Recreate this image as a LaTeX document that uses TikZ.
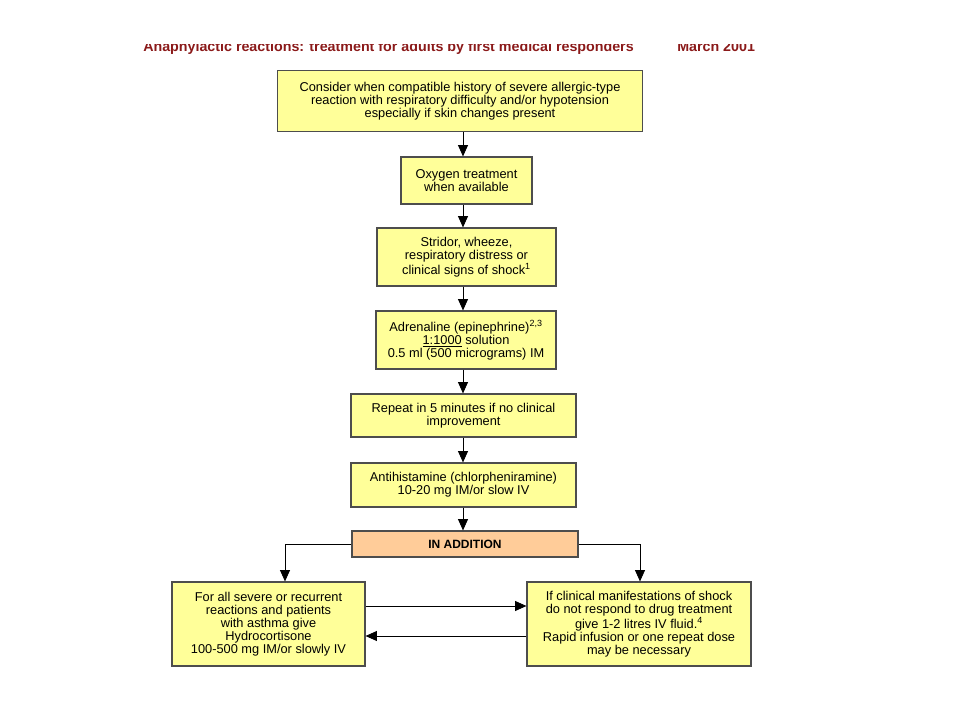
\documentclass[tikz,border=0pt]{standalone}
\usepackage{fontspec}
\setmainfont{Liberation Sans}
\usetikzlibrary{arrows.meta}
\definecolor{boxyellow}{HTML}{FFFF99}
\definecolor{boxorange}{HTML}{FFCC99}
\definecolor{boxline}{HTML}{4D4D4D}
\definecolor{titlered}{HTML}{8B1A1A}
\begin{document}
\begin{tikzpicture}[x=0.75pt, y=-0.75pt]
    % Define styles
    \tikzset{
        stage/.style 2 args={
            draw=boxline,
            fill=boxyellow,
            line width=0.9pt,
            align=center,
            inner sep=0pt,
            minimum width=#1*0.75pt,
            minimum height=#2*0.75pt,
            font=\fontsize{9.6}{9.8}\selectfont
        },
        extra/.style={
            stage={226}{26},
            fill=boxorange,
            font=\fontsize{9}{9.8}\selectfont\bfseries
        },
        flow/.style={
            line width=0.6pt,
            -{Triangle[length=8.5pt, width=7.5pt]}
        },
        heading/.style={
            titlered,
            font=\fontsize{10.7}{12}\selectfont\bfseries,
            anchor=base west,
            inner sep=0pt
        }
    }
    \useasboundingbox (0,0) rectangle (960,720);
    \clip (0,45) rectangle (960,720);

    % Title (cut off at the top)
    \node[heading] (title) at (143,52) {Anaphylactic reactions: treatment for adults by first medical responders};
    \node[heading] (date) at (677,52) {March 2001};

    % Main column
    \node[stage={365}{61}] (consider) at (460,101) {Consider when compatible history of severe allergic-type\\reaction with respiratory difficulty and/or hypotension\\especially if skin changes present};
    \node[stage={131}{47}] (oxygen) at (466.5,180.5) {Oxygen treatment\\when available};
    \node[stage={179}{58}] (stridor) at (466.5,257) {Stridor, wheeze,\\respiratory distress or\\clinical signs of shock\textsuperscript{1}};
    \node[stage={180}{58}] (adrenaline) at (466,340) {Adrenaline (epinephrine)\textsuperscript{2,3}\\\underline{1:1000} solution\\0.5 ml (500 micrograms) IM};
    \node[stage={225}{43}] (repeat) at (463.5,415.5) {Repeat in 5 minutes if no clinical\\improvement};
    \node[stage={225}{44}] (antihist) at (463.5,485) {Antihistamine (chlorpheniramine)\\10-20 mg IM/or slow IV};
    \node[extra] (addition) at (465,544) {IN ADDITION};

    % Bottom pair
    \node[stage={193}{84}] (hydro) at (268.5,624) {For all severe or recurrent\\reactions and patients\\with asthma give\\Hydrocortisone\\100-500 mg IM/or slowly IV};
    \node[stage={224}{84}] (fluid) at (639,624) {If clinical manifestations of shock\\do not respond to drug treatment\\give 1-2 litres IV fluid.\textsuperscript{4}\\Rapid infusion or one repeat dose\\may be necessary};

    % Arrows down the column
    \draw[flow] (consider.south -| 463,0) -- (oxygen.north -| 463,0);
    \draw[flow] (oxygen.south -| 463,0) -- (stridor.north -| 463,0);
    \draw[flow] (stridor.south -| 463,0) -- (adrenaline.north -| 463,0);
    \draw[flow] (adrenaline.south -| 463,0) -- (repeat.north -| 463,0);
    \draw[flow] (repeat.south -| 463,0) -- (antihist.north -| 463,0);
    \draw[flow] (antihist.south -| 463,0) -- (addition.north -| 463,0);

    % Branches
    \draw[flow] (addition.west) -| (hydro.north -| 285,0);
    \draw[flow] (addition.east) -| (fluid.north -| 640,0);
    \draw[flow] (hydro.east |- 0,606) -- (fluid.west |- 0,606);
    \draw[flow] (fluid.west |- 0,636) -- (hydro.east |- 0,636);
\end{tikzpicture}
\end{document}
